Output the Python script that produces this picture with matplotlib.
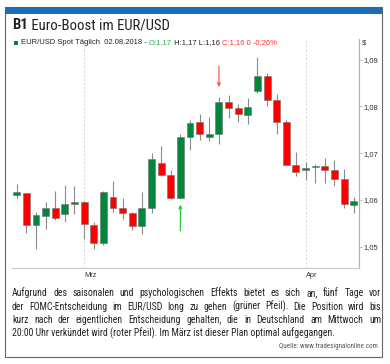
import numpy as np
import matplotlib
matplotlib.use('Agg')
import matplotlib.pyplot as plt
from matplotlib import font_manager
from matplotlib.patches import Rectangle

# daily EUR/USD candles (Feb 2018 - Apr 2018)
opens = [1.0610, 1.0614, 1.0546, 1.0566, 1.0583, 1.0570, 1.0591, 1.0596, 1.0547, 1.0508,
         1.0606, 1.0583, 1.0571, 1.0544, 1.0583, 1.0678, 1.0653, 1.0605, 1.0734, 1.0766,
         1.0734, 1.0740, 1.0810, 1.0797, 1.0782, 1.0833, 1.0865, 1.0814, 1.0767, 1.0675,
         1.0663, 1.0670, 1.0673, 1.0664, 1.0645, 1.0589]
highs = [1.0634, 1.0615, 1.0575, 1.0596, 1.0619, 1.0632, 1.0630, 1.0597, 1.0553, 1.0618,
         1.0641, 1.0603, 1.0574, 1.0616, 1.0700, 1.0715, 1.0663, 1.0741, 1.0771, 1.0784,
         1.0778, 1.0821, 1.0824, 1.0805, 1.0817, 1.0905, 1.0872, 1.0826, 1.0771, 1.0702,
         1.0681, 1.0677, 1.0689, 1.0685, 1.0666, 1.0607]
lows = [1.0605, 1.0529, 1.0495, 1.0538, 1.0557, 1.0553, 1.0570, 1.0516, 1.0495, 1.0504,
        1.0575, 1.0560, 1.0536, 1.0527, 1.0573, 1.0651, 1.0601, 1.0604, 1.0707, 1.0728,
        1.0725, 1.0720, 1.0776, 1.0767, 1.0762, 1.0828, 1.0800, 1.0740, 1.0674, 1.0652,
        1.0643, 1.0637, 1.0636, 1.0630, 1.0582, 1.0571]
closes = [1.0616, 1.0546, 1.0568, 1.0583, 1.0562, 1.0591, 1.0596, 1.0549, 1.0508, 1.0617,
          1.0583, 1.0571, 1.0545, 1.0583, 1.0688, 1.0653, 1.0605, 1.0734, 1.0765, 1.0740,
          1.0740, 1.0810, 1.0797, 1.0783, 1.0798, 1.0865, 1.0813, 1.0767, 1.0675, 1.0659,
          1.0669, 1.0673, 1.0663, 1.0645, 1.0591, 1.0597]

month_pos = [7, 30]
month_labels = ['Mrz', 'Apr']
yticks = [1.05, 1.06, 1.07, 1.08, 1.09]

buy_bar, buy_from, buy_to = 17, 1.0534, 1.0590
sell_bar, sell_from, sell_to = 21, 1.0886, 1.0841

title_bold = 'B1'
title_rest = ' Euro-Boost im EUR/USD'
paragraph = [
    'Aufgrund des saisonalen und psychologischen Effekts bietet es sich an, fünf Tage vor',
    'der FOMC-Entscheidung im EUR/USD long zu gehen (grüner Pfeil). Die Position wird bis',
    'kurz nach der eigentlichen Entscheidung gehalten, die in Deutschland am Mittwoch um',
    '20:00 Uhr verkündet wird (roter Pfeil). Im März ist dieser Plan optimal aufgegangen.',
]
source = 'Quelle: www.tradesignalonline.com'

GREEN = '#00873c'
RED = '#ff0000'

W, H = 390, 364
names = {f.name for f in font_manager.fontManager.ttflist}
narrow = 'Roboto'
for cand in ['Roboto Condensed', 'Liberation Sans Narrow', 'Roboto']:
    if cand in names:
        narrow = cand
        break

fig = plt.figure(figsize=(W / 100, H / 100), dpi=100)
r = fig.canvas.get_renderer()


def fx(x):
    return x / W


def fy(y):
    return 1 - y / H


def runs(x, y, parts, size, family):
    # draw pieces of text one after the other on one line
    for txt, col, wt in parts:
        t = fig.text(fx(x), fy(y), txt, color=col, fontsize=size, family=family,
                     fontweight=wt, va='center', ha='left')
        x += t.get_window_extent(r).width


def justify(line, y, x0, x1, size, family):
    words = line.split(' ')
    ts = [fig.text(0, 0, w, fontsize=size, family=family, va='center', color='#222222')
          for w in words]
    ws = [t.get_window_extent(r).width for t in ts]
    gap = (x1 - x0 - sum(ws)) / (len(words) - 1)
    x = x0
    for t, w in zip(ts, ws):
        t.set_position((fx(x), fy(y)))
        x += w + gap


# frame and blue header stripe
fig.patches.append(Rectangle((fx(5), fy(357)), (382 - 5) / W, (357 - 7) / H,
                             transform=fig.transFigure, fill=False, ec='#666666', lw=0.8))
fig.patches.append(Rectangle((fx(5), fy(14)), (382 - 5) / W, 7 / H,
                             transform=fig.transFigure, color='#1c6db5', lw=0))

runs(12, 25, [(title_bold, '#222222', 'bold'), (title_rest, '#222222', 'normal')], 10.6, narrow)

fig.patches.append(Rectangle((fx(14), fy(45)), 4 / W, 4 / H,
                             transform=fig.transFigure, color=GREEN, lw=0))
runs(21, 43, [('EUR/USD Spot Täglich  02.08.2018 - ', '#222222', 'normal'),
              ('O:1,17', '#1fae4a', 'normal'),
              (' H:1,17 L:1,16 ', '#222222', 'normal'),
              ('C:1,16 0 -0,26%', '#ff3333', 'normal')], 5.5, 'Liberation Sans')

# chart
ax = fig.add_axes([fx(12), fy(268), (359 - 12) / W, (268 - 39) / H])
x = np.arange(len(opens))
o = np.array(opens)
c = np.array(closes)
up = c >= o
cols = np.where(up, GREEN, RED)
bottom = np.minimum(o, c)
height = np.maximum(np.abs(c - o), 0.00005)

ax.vlines(x, lows, highs, color='#8a8a8a', lw=0.8, zorder=2)
ax.bar(x, height, bottom=bottom, width=0.72, color=cols, edgecolor='#707070',
       linewidth=0.4, zorder=3)

for p in month_pos:
    ax.axvline(p, color='#d8d8d8', lw=0.6, ls=(0, (3, 2)), zorder=1)

ax.annotate('', xy=(buy_bar, buy_to), xytext=(buy_bar, buy_from),
            arrowprops=dict(arrowstyle='-|>', color='#2dcc3c', lw=0.9, mutation_scale=5,
                            shrinkA=0, shrinkB=0))
ax.annotate('', xy=(sell_bar, sell_to), xytext=(sell_bar, sell_from),
            arrowprops=dict(arrowstyle='-|>', color='#ff5a5a', lw=0.9, mutation_scale=5,
                            shrinkA=0, shrinkB=0))

ax.set_xlim(-0.49, 35.55)
ax.set_ylim(1.04544, 1.0944)
for s in ['left', 'top']:
    ax.spines[s].set_visible(False)
ax.spines['right'].set_color('#b0b0b0')
ax.spines['bottom'].set_color('#c8c8c8')
ax.spines['right'].set_linewidth(0.8)
ax.spines['bottom'].set_linewidth(0.8)
ax.yaxis.tick_right()
ax.set_yticks(yticks)
ax.set_yticklabels([f'{v:.2f}'.replace('.', ',') for v in yticks])
ax.tick_params(axis='y', length=2, width=0.6, color='#b0b0b0', labelsize=5.5,
               pad=1.5, labelcolor='#333333')
ax.set_xticks(month_pos)
ax.set_xticklabels(month_labels, ha='left')
ax.tick_params(axis='x', length=0, labelsize=5.3, pad=3, labelcolor='#333333')
for lab in ax.get_xticklabels() + ax.get_yticklabels():
    lab.set_family('Liberation Sans')
fig.text(fx(362), fy(43), '$', fontsize=5.5, family='Liberation Sans', va='center',
         color='#333333')

# caption
ys = [293, 306.5, 320, 333.5]
for line, yy in zip(paragraph[:3], ys[:3]):
    justify(line, yy, 12, 381, 7.0, narrow)
fig.text(fx(12), fy(ys[3]), paragraph[3], fontsize=7.0, family=narrow, va='center',
         color='#222222')
fig.text(fx(378), fy(347), source, fontsize=5.0, family=narrow, va='center', ha='right',
         color='#555555')

fig.savefig('out.png', dpi=100)
